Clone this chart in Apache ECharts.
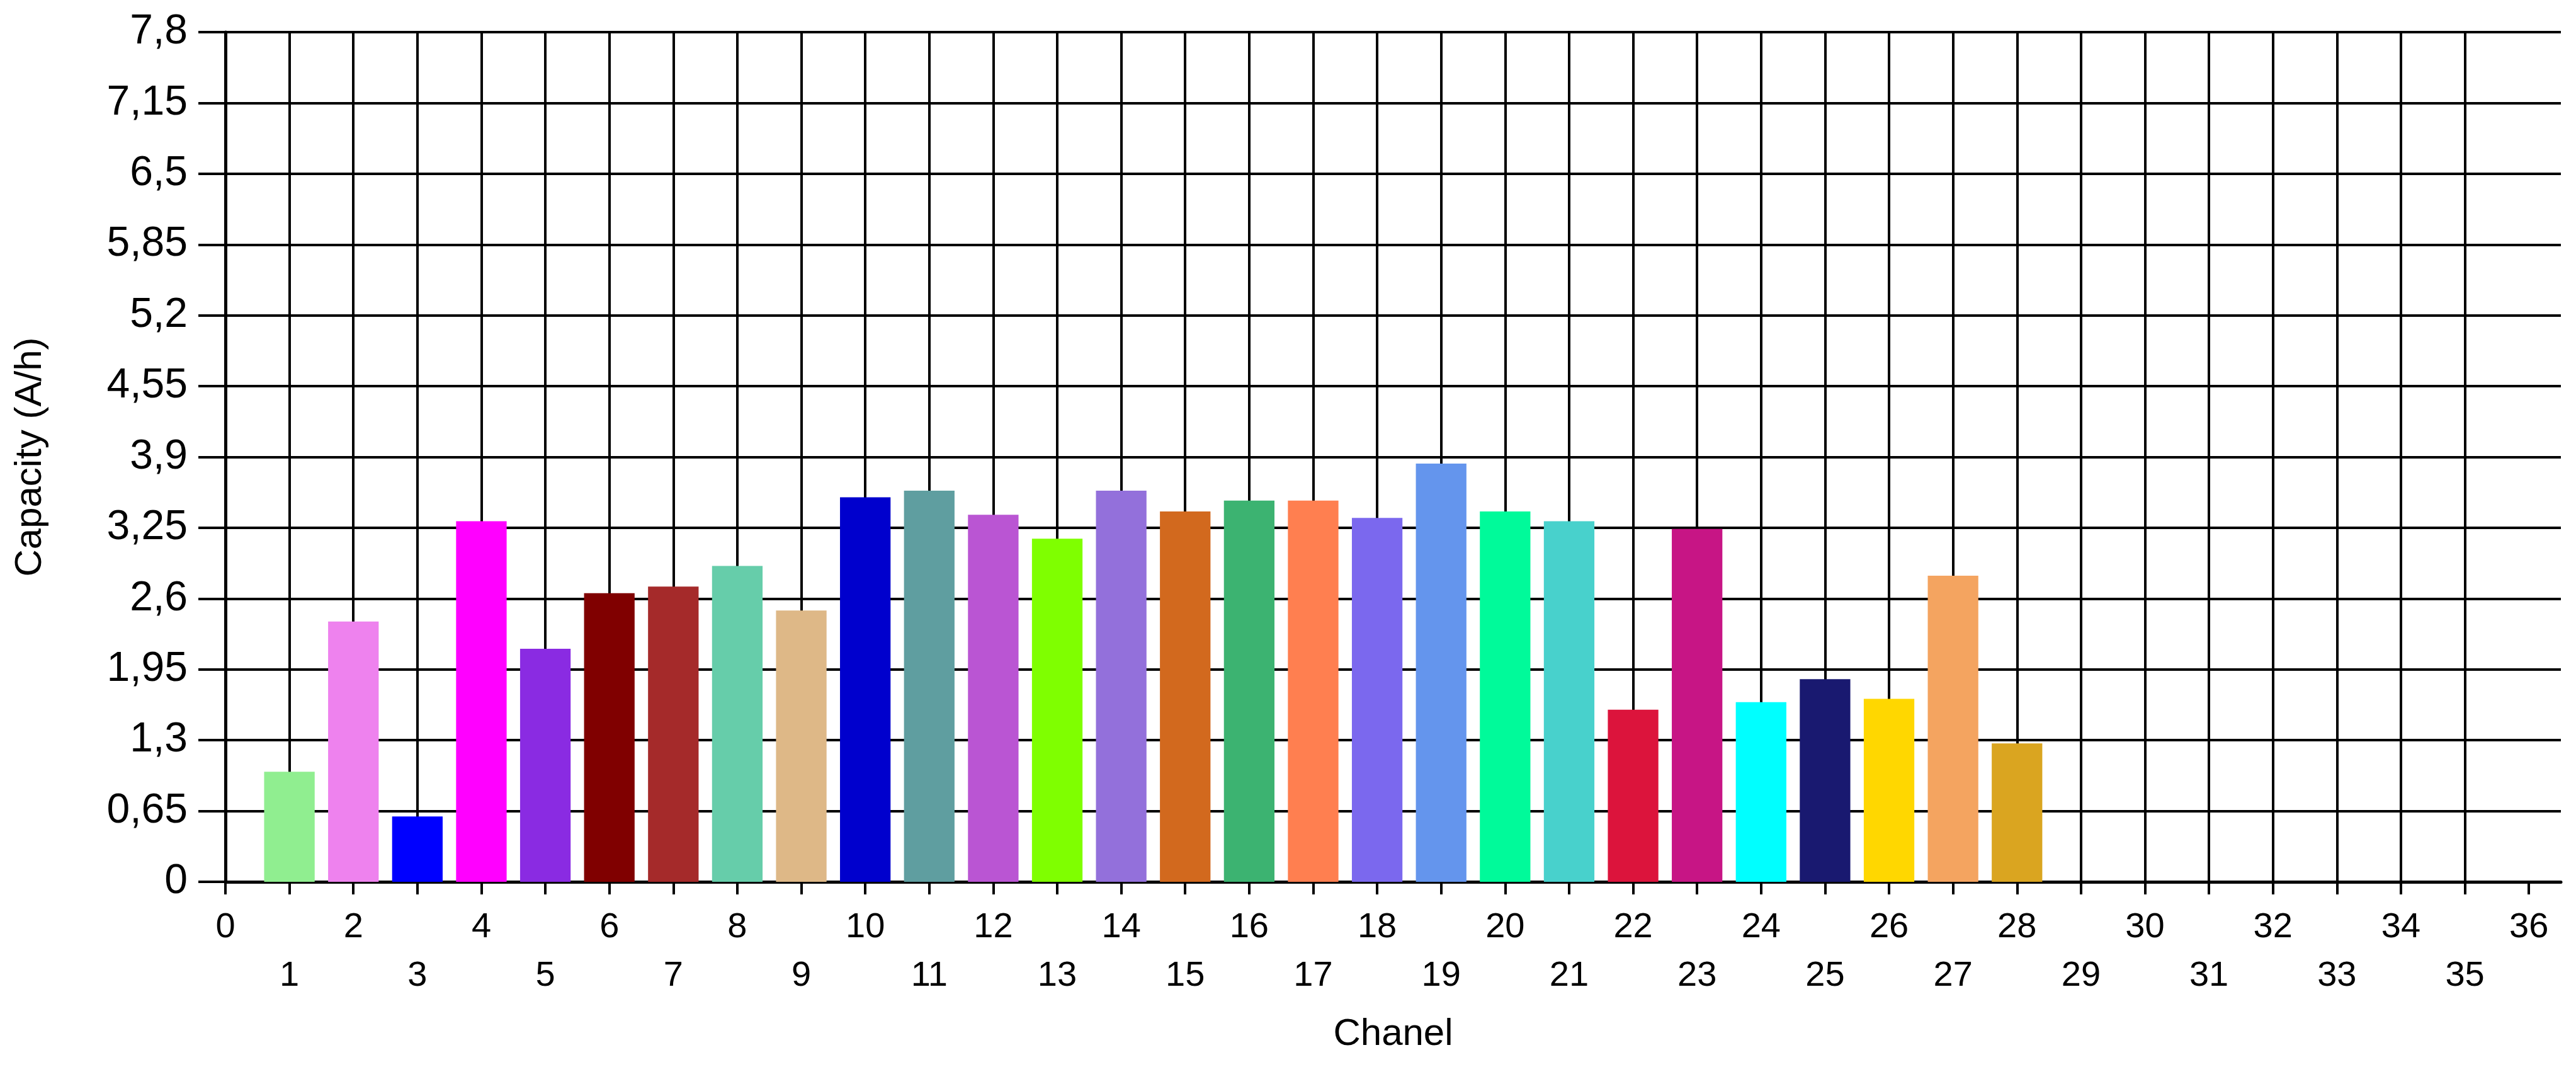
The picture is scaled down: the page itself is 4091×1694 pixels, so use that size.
<!DOCTYPE html>
<html>
<head>
<meta charset="utf-8">
<script src="https://cdn.jsdelivr.net/npm/echarts@6/dist/echarts.min.js"></script>
<style>
html,body{margin:0;padding:0;background:#fff;}
#chart{width:4091px;height:1694px;}
</style>
</head>
<body>
<div id="chart"></div>
<script>
const channels = [1,2,3,4,5,6,7,8,9,10,11,12,13,14,15,16,17,18,19,20,21,22,23,24,25,26,27,28];
const capacity = [1.01,2.39,0.60,3.31,2.14,2.65,2.71,2.90,2.49,3.53,3.59,3.37,3.15,3.59,3.40,3.50,3.50,3.34,3.84,3.40,3.31,1.58,3.24,1.65,1.86,1.68,2.81,1.27];
const barColors = ['#90EE90','#EE82EE','#0000FF','#FF00FF','#8A2BE2','#800000','#A52A2A','#66CDAA','#DEB887','#0000CD','#5F9EA0','#BA55D3','#7FFF00','#9370DB','#D2691E','#3CB371','#FF7F50','#7B68EE','#6495ED','#00FA9A','#48D1CC','#DC143C','#C71585','#00FFFF','#191970','#FFD700','#F4A460','#DAA520'];
const xTicks = [0,1,2,3,4,5,6,7,8,9,10,11,12,13,14,15,16,17,18,19,20,21,22,23,24,25,26,27,28,29,30,31,32,33,34,35,36];
const yTicks = [0,0.65,1.3,1.95,2.6,3.25,3.9,4.55,5.2,5.85,6.5,7.15,7.8];
const xTitle = 'Chanel';
const yTitle = 'Capacity (A/h)';

const FONT = '"Liberation Sans", Arial, sans-serif';
const chart = echarts.init(document.getElementById('chart'), null, {renderer: 'canvas'});
const data = channels.map((c, i) => ({
  value: [c, capacity[i]],
  itemStyle: {color: barColors[i]}
}));

chart.setOption({
  animation: false,
  backgroundColor: '#ffffff',
  grid: {left: 358, right: 24, top: 51, bottom: 294},
  xAxis: {
    type: 'value',
    min: 0,
    max: 36.5,
    interval: 1,
    name: xTitle,
    nameLocation: 'middle',
    nameGap: 212,
    nameTextStyle: {color: '#000', fontSize: 60, fontFamily: FONT},
    axisLine: {show: true, onZero: false, lineStyle: {color: '#000', width: 5}},
    axisTick: {show: true, inside: false, length: 20, customValues: xTicks, lineStyle: {color: '#000', width: 4}},
    axisLabel: {
      show: true,
      customValues: xTicks,
      margin: 34,
      color: '#000',
      fontSize: 56,
      lineHeight: 77,
      fontFamily: FONT,
      showMaxLabel: true,
      formatter: function (v) { return (v % 2 === 1 ? '\n' : '') + v; }
    },
    splitLine: {show: true, showMaxLine: false, lineStyle: {color: '#000', width: 4}}
  },
  yAxis: {
    type: 'value',
    min: 0,
    max: 7.8,
    interval: 0.65,
    name: yTitle,
    nameLocation: 'middle',
    nameRotate: 90,
    nameGap: 280,
    nameTextStyle: {color: '#000', fontSize: 60, fontFamily: FONT},
    axisLine: {show: true, lineStyle: {color: '#000', width: 5}},
    axisTick: {show: true, inside: false, length: 43, lineStyle: {color: '#000', width: 4}},
    axisLabel: {
      show: true,
      margin: 60,
      color: '#000',
      fontSize: 66,
      fontFamily: FONT,
      formatter: function (v) {
        let best = yTicks.reduce((a, b) => Math.abs(b - v) < Math.abs(a - v) ? b : a);
        return String(best).replace('.', ',');
      }
    },
    splitLine: {show: true, lineStyle: {color: '#000', width: 4}}
  },
  series: [{
    type: 'bar',
    data: data,
    barWidth: '79%',
    itemStyle: {borderWidth: 0}
  }]
});
</script>
</body>
</html>
